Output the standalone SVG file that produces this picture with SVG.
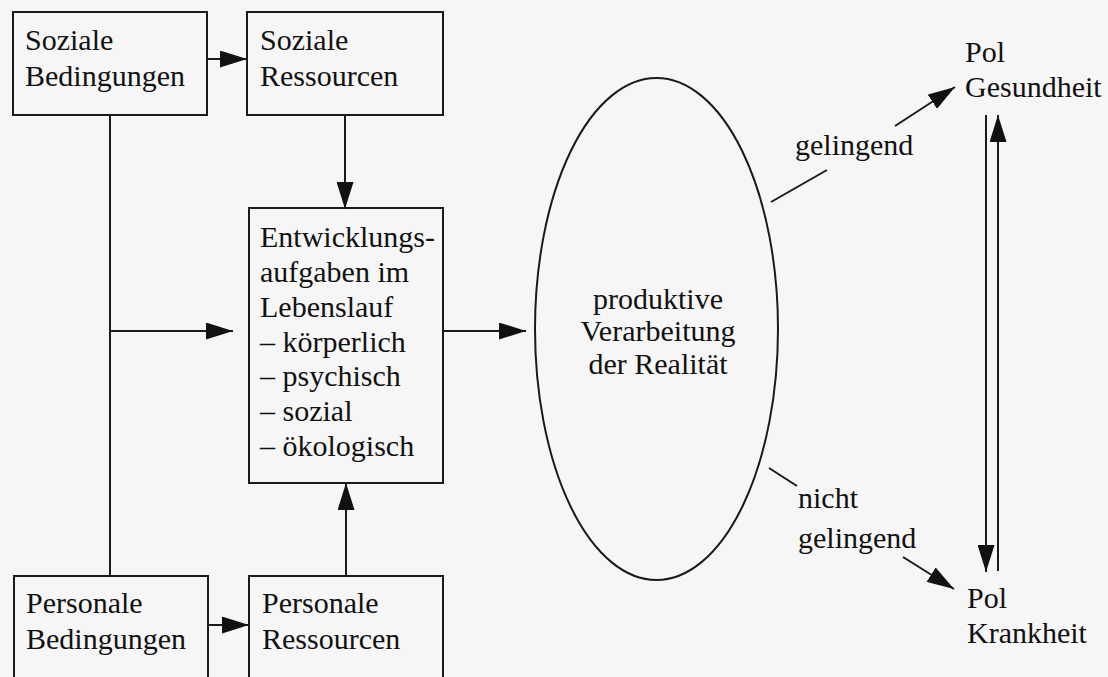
<svg xmlns="http://www.w3.org/2000/svg" width="1108" height="677" viewBox="0 0 1108 677">
<defs>
<marker id="ah" viewBox="0 0 27 17" refX="27" refY="8.5" markerWidth="27" markerHeight="17" markerUnits="userSpaceOnUse" orient="auto">
<path d="M0,0 L27,8.5 L0,17 Z" fill="#111"/>
</marker>
</defs>
<style>
.box{fill:none;stroke:#1a1a1a;stroke-width:2}
.ln{fill:none;stroke:#1a1a1a;stroke-width:2}
.ar{fill:none;stroke:#1a1a1a;stroke-width:2;marker-end:url(#ah)}
text{font-family:"Liberation Serif","Times New Roman",serif;font-size:30px;fill:#111}
.c{text-anchor:middle}
</style>
<rect x="0" y="0" width="1108" height="677" fill="#f6f6f6"/>
<g id="soziale-bedingungen">
<rect class="box" x="13" y="12" width="194" height="103"/>
<text x="25" y="50">Soziale</text>
<text x="25" y="86">Bedingungen</text>
</g>
<g id="soziale-ressourcen">
<rect class="box" x="247" y="12" width="196" height="103"/>
<text x="260" y="50">Soziale</text>
<text x="260" y="86">Ressourcen</text>
</g>
<g id="entwicklungsaufgaben">
<rect class="box" x="249" y="208" width="194" height="275"/>
<text x="260" y="247">Entwicklungs-</text>
<text x="260" y="282">aufgaben im</text>
<text x="260" y="317">Lebenslauf</text>
<text x="260" y="352">– körperlich</text>
<text x="260" y="386">– psychisch</text>
<text x="260" y="421">– sozial</text>
<text x="260" y="456">– ökologisch</text>
</g>
<g id="personale-bedingungen">
<rect class="box" x="14" y="576" width="194" height="120"/>
<text x="26" y="613">Personale</text>
<text x="26" y="649">Bedingungen</text>
</g>
<g id="personale-ressourcen">
<rect class="box" x="249" y="576" width="194" height="120"/>
<text x="262" y="613">Personale</text>
<text x="262" y="649">Ressourcen</text>
</g>
<g id="verarbeitung">
<ellipse class="box" cx="656.5" cy="329" rx="121.5" ry="251"/>
<text class="c" x="658" y="309">produktive</text>
<text class="c" x="658" y="341">Verarbeitung</text>
<text class="c" x="658" y="374">der Realität</text>
</g>
<g id="pol-gesundheit">
<text x="965" y="62">Pol</text>
<text x="965" y="97">Gesundheit</text>
</g>
<g id="pol-krankheit">
<text x="967" y="608">Pol</text>
<text x="967" y="643">Krankheit</text>
</g>
<g id="connectors">
<line class="ar" x1="207" y1="59" x2="247" y2="59"/>
<line class="ar" x1="345" y1="115" x2="345" y2="209"/>
<line class="ln" x1="110" y1="115" x2="110" y2="576"/>
<line class="ar" x1="110" y1="331" x2="233" y2="331"/>
<line class="ar" x1="443" y1="331" x2="526" y2="331"/>
<line class="ar" x1="208" y1="625" x2="249" y2="625"/>
<line class="ar" x1="346" y1="576" x2="346" y2="483"/>
<line class="ln" x1="771" y1="202" x2="827" y2="170"/>
<line class="ar" x1="895" y1="126" x2="955" y2="87"/>
<line class="ln" x1="769" y1="468" x2="797" y2="486"/>
<line class="ar" x1="903" y1="557" x2="954" y2="589"/>
<line class="ar" x1="986" y1="115" x2="986" y2="572"/>
<line class="ar" x1="998" y1="571" x2="998" y2="115"/>
<text x="795" y="155">gelingend</text>
<text x="798" y="508">nicht</text>
<text x="798" y="548">gelingend</text>
</g>
</svg>
